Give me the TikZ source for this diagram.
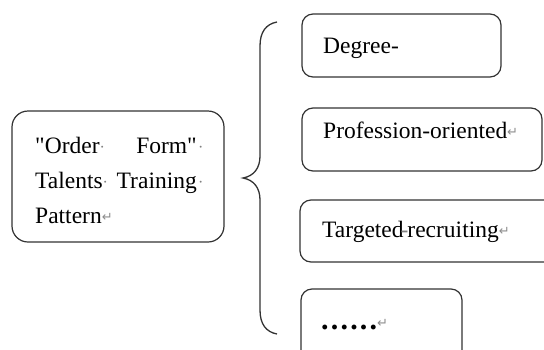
\documentclass[tikz,border=0pt]{standalone}
\usepackage{fontspec}
\setmainfont{Liberation Serif}
\newfontfamily\symfont{DejaVu Sans}
\newcommand{\retmark}{{\color{black!45}\symfont\fontsize{13}{13}\selectfont\raisebox{2pt}{↵}}}
\newcommand{\spmark}{{\color{black!50}\fontsize{16}{16}\selectfont\raisebox{1pt}{·}}}
\begin{document}
\begin{tikzpicture}[x=1pt,y=-1pt,
  box/.style={draw=black!80, line width=1.2pt, rounded corners=11pt, fill=white, inner sep=0pt},
  txt/.style={inner sep=0pt, anchor=base west, font=\fontsize{23.5}{28}\selectfont},
  txte/.style={inner sep=0pt, anchor=base east, font=\fontsize{23.5}{28}\selectfont},
  brace/.style={draw=black!80, line width=1.3pt}]
\useasboundingbox (0,0) rectangle (544,349);
\begin{scope}
\clip (0,0) rectangle (544,349);
% left box
\node[box, rounded corners=16pt, minimum width=212pt, minimum height=131pt] (main) at (118,176.5) {};
\node[txt] (l1a) at (35,153) {\textquotedbl Order\spmark};
\node[txte] (l1b) at (197,153) {Form\textquotedbl};
\node[inner sep=0pt, anchor=base west] (l1c) at (198,153) {\spmark};
\node[txt] (l2a) at (35,188) {Talents\spmark};
\node[txte] (l2b) at (197,188) {Training};
\node[inner sep=0pt, anchor=base west] (l2c) at (198,188) {\spmark};
\node[txt] (l3) at (35,223) {Pattern\retmark};
% brace
\draw[brace] (277,22) .. controls (266,24) and (260,32) .. (260,46)
  -- (260,156) .. controls (260,168) and (254,176) .. (243,178)
  .. controls (254,180) and (260,188) .. (260,200)
  -- (260,310) .. controls (260,324) and (266,332) .. (277,334);
% right boxes
\node[box, minimum width=199pt, minimum height=63pt] (b1) at (401.5,45.5) {};
\node[txt] (t1) at (323,53) {Degree-};
\node[box, minimum width=240pt, minimum height=63pt] (b2) at (422,139.5) {};
\node[txt] (t2) at (323,138) {Profession-oriented\retmark};
\node[box, minimum width=270pt, minimum height=62pt] (b3) at (435,231) {};
\node[txt] (t3) at (322,237) {Targeted\kern-1pt{\color{black!50}\kern-2pt-\kern-1pt}recruiting\retmark};
\node[box, minimum width=161pt, minimum height=81pt] (b4) at (381.5,329.5) {};
\node[txt] (t4) at (321,329) {\fontsize{30}{30}\selectfont\textbf{.\kern2.2pt.\kern2.2pt.\kern2.2pt.\kern2.2pt.\kern2.2pt.}\retmark};
\end{scope}
\end{tikzpicture}
\end{document}
